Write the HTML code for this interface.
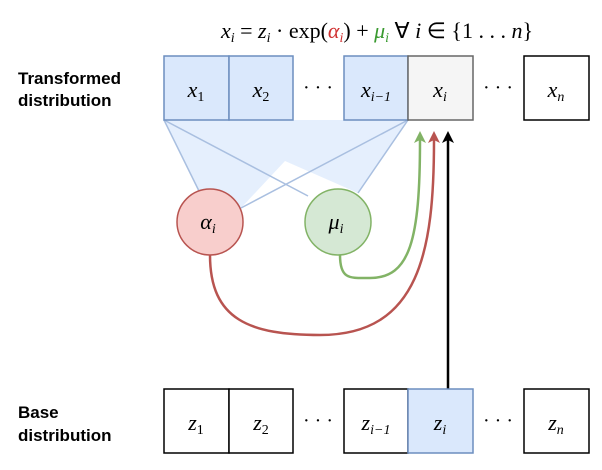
<!DOCTYPE html>
<html><head><meta charset="utf-8"><style>
body{margin:0;background:#fff;width:602px;height:465px;overflow:hidden}
text{font-family:"Liberation Serif",serif}
.m{font-style:italic;font-size:22px}
.s{font-size:14px}
.lbl{font-family:"Liberation Sans",sans-serif;font-weight:bold;font-size:17px}
</style></head><body>
<svg width="602" height="465" viewBox="0 0 602 465">
<defs>
<marker id="ab" markerWidth="12" markerHeight="12" refX="6" refY="9" markerUnits="userSpaceOnUse"><path d="M0,12 L6,0 L12,12 L6,9 Z" fill="#000"/></marker>
<marker id="ar" markerWidth="12" markerHeight="12" refX="6" refY="9" markerUnits="userSpaceOnUse"><path d="M0,12 L6,0 L12,12 L6,9 Z" fill="#b85450"/></marker>
<marker id="ag" markerWidth="12" markerHeight="12" refX="6" refY="9" markerUnits="userSpaceOnUse"><path d="M0,12 L6,0 L12,12 L6,9 Z" fill="#82b366"/></marker>
</defs>
<text x="377" y="38" text-anchor="middle" class="m" style="font-size:22px"><tspan>x</tspan><tspan class="s" dy="4">i</tspan><tspan dy="-4" font-style="normal"> = </tspan><tspan>z</tspan><tspan class="s" dy="4">i</tspan><tspan dy="-4" font-style="normal"> · exp(</tspan><tspan fill="#d03030">α</tspan><tspan fill="#d03030" class="s" dy="4">i</tspan><tspan dy="-4" font-style="normal">) + </tspan><tspan fill="#3a9a30">μ</tspan><tspan fill="#3a9a30" class="s" dy="4">i</tspan><tspan dy="-4" font-style="normal">  ∀ </tspan><tspan>i</tspan><tspan font-style="normal"> ∈ {1 . . . </tspan><tspan>n</tspan><tspan font-style="normal">}</tspan></text>
<text class="lbl" x="18" y="84">Transformed</text>
<text class="lbl" x="18" y="106">distribution</text>
<text class="lbl" x="18" y="418">Base</text>
<text class="lbl" x="18" y="441">distribution</text>
<polygon points="164,120 408,120 358,193 285,161 241,208 199,191" fill="#dae8fc" opacity="0.7"/>
<g stroke="#a9bfe0" stroke-width="1.5" fill="none">
<line x1="164" y1="120" x2="199" y2="191"/><line x1="164" y1="120" x2="308" y2="196"/>
<line x1="408" y1="120" x2="241" y2="208"/><line x1="408" y1="120" x2="358" y2="193"/>
</g>
<g stroke="#6c8ebf" stroke-width="1.5" fill="#dae8fc">
<rect x="164" y="56" width="65" height="64"/><rect x="229" y="56" width="64" height="64"/><rect x="344" y="56" width="64" height="64"/>
</g>
<rect x="408" y="56" width="65" height="64" fill="#f5f5f5" stroke="#666" stroke-width="1.5"/>
<rect x="524" y="56" width="65" height="64" fill="#fff" stroke="#000" stroke-width="1.5"/>
<g class="m">
<text x="196" y="97" text-anchor="middle">x<tspan class="s" font-style="normal" dy="4">1</tspan></text>
<text x="261" y="97" text-anchor="middle">x<tspan class="s" font-style="normal" dy="4">2</tspan></text>
<text x="376" y="97" text-anchor="middle">x<tspan class="s" dy="4">i−1</tspan></text>
<text x="440" y="97" text-anchor="middle">x<tspan class="s" dy="4">i</tspan></text>
<text x="556" y="97" text-anchor="middle">x<tspan class="s" dy="4">n</tspan></text>
</g>
<text x="318" y="94" text-anchor="middle" font-size="20">· · ·</text>
<text x="498" y="94" text-anchor="middle" font-size="20">· · ·</text>
<circle cx="210" cy="222" r="33" fill="#f8cecc" stroke="#b85450" stroke-width="1.5"/>
<circle cx="338" cy="222" r="33" fill="#d5e8d4" stroke="#82b366" stroke-width="1.5"/>
<text class="m" x="208" y="229" text-anchor="middle">α<tspan class="s" dy="4">i</tspan></text>
<text class="m" x="336" y="229" text-anchor="middle">μ<tspan class="s" dy="4">i</tspan></text>
<path d="M210,255 C210,320 250,335 320,335 C420,335 434,250 434,140" fill="none" stroke="#b85450" stroke-width="2.5" marker-end="url(#ar)"/>
<path d="M340,255 C340,280 350,278 370,278 C410,278 420,240 420,140" fill="none" stroke="#82b366" stroke-width="2.5" marker-end="url(#ag)"/>
<line x1="448" y1="389" x2="448" y2="140" stroke="#000" stroke-width="2.5" marker-end="url(#ab)"/>
<g stroke="#000" stroke-width="1.5" fill="#fff">
<rect x="164" y="389" width="65" height="64"/><rect x="229" y="389" width="64" height="64"/><rect x="344" y="389" width="64" height="64"/><rect x="524" y="389" width="65" height="64"/>
</g>
<rect x="408" y="389" width="65" height="64" fill="#dae8fc" stroke="#6c8ebf" stroke-width="1.5"/>
<g class="m">
<text x="196" y="430" text-anchor="middle">z<tspan class="s" font-style="normal" dy="4">1</tspan></text>
<text x="261" y="430" text-anchor="middle">z<tspan class="s" font-style="normal" dy="4">2</tspan></text>
<text x="376" y="430" text-anchor="middle">z<tspan class="s" dy="4">i−1</tspan></text>
<text x="440" y="430" text-anchor="middle">z<tspan class="s" dy="4">i</tspan></text>
<text x="556" y="430" text-anchor="middle">z<tspan class="s" dy="4">n</tspan></text>
</g>
<text x="318" y="427" text-anchor="middle" font-size="20">· · ·</text>
<text x="498" y="427" text-anchor="middle" font-size="20">· · ·</text>
</svg>
</body></html>
